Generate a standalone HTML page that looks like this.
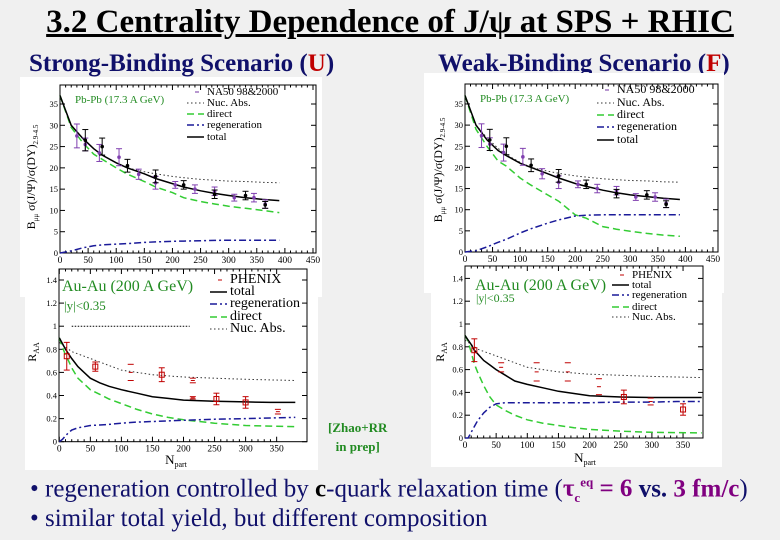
<!DOCTYPE html>
<html><head><meta charset="utf-8">
<style>
html,body{margin:0;padding:0}
body{width:780px;height:540px;background:#f0f0f0;position:relative;overflow:hidden;font-family:"Liberation Serif",serif}
.abs{position:absolute;white-space:nowrap}
#title{left:0;width:780px;text-align:center;top:4px;font-size:33px;font-weight:bold;text-decoration:underline;color:#000}
.sub{top:50px;font-size:25px;font-weight:bold;color:#10106a}
.red{color:#c00000}
.bul{left:30px;font-size:25px;color:#10106a}
.pur{color:#800080;font-weight:bold}
#zhao{left:328px;top:418px;font-size:13px;font-weight:bold;color:#228b22;text-align:center;line-height:19px}
svg{position:absolute;left:0;top:0}
</style></head>
<body>
<div id="title" class="abs">3.2 Centrality Dependence of J/ψ at SPS + RHIC</div>
<div class="abs sub" style="left:29px">Strong-Binding Scenario (<span class="red">U</span>)</div>
<div class="abs sub" style="left:438px">Weak-Binding Scenario (<span class="red">F</span>)</div>
<svg id="chart" width="780" height="540"></svg>
<div id="zhao" class="abs">[Zhao+RR<br>in prep]</div>
<div class="abs bul" style="top:475px">• regeneration controlled by <b style="color:#000">c</b>-quark relaxation time (<span class="pur">τ<sub style="font-size:13px">c</sub><sup style="font-size:13px">eq</sup> = 6</span> <b>vs.</b> <span class="pur">3 fm/c</span>)</div>
<div class="abs bul" style="top:505px">• similar total yield, but different composition</div>
<script>
// ---- SPS data (shared) ----
const spsX = [0,20,40,60,75,100,120,150,170,200,220,250,275,300,330,360,390];
const uTotal = [37,30,27,24.5,23,21.2,20,18.6,17.5,16.3,15.5,14.6,14,13.5,13,12.6,12.3];
const uNuc = [37,30,27,24.5,23,21.2,20,19.1,18.6,18,17.7,17.3,17.1,16.9,16.8,16.6,16.5];
const uDirect = [37,29.5,26,23.2,22,20,18.5,16.8,15.5,14.2,13,12.1,11.5,11,10.5,10,9.5];
const uRegen = [0,0.5,1.2,1.7,1.9,2.1,2.2,2.5,2.6,2.75,2.8,2.9,2.95,3,3,3,3];
const fTotal = [37,30,26.5,24,22.8,21,20,18.5,17.5,16.2,15.5,14.6,14,13.5,13.1,12.7,12.4];
const fNuc = uNuc;
const fDirect = [37,29,25,21.5,20.3,17.5,15.8,13.5,12,8.8,8,6,5.4,4.9,4.4,4,3.7];
const fRegen = [0,0.3,1.2,2.3,3,4.5,5.5,6.8,7.6,8.5,8.7,8.8,8.8,8.8,8.8,8.8,8.8];
const na50X = [30,45,70,105,140,170,205,240,275,310,345,365];
const na50Y = [27.5,25.5,23.5,22.5,18.5,16.5,16,15,14.5,13,13,11.5];
const na50E = [2.8,1.5,2,2,1.2,1.5,0.8,1,1,0.8,1,1];
const blkX = [45,75,120,170,220,275,330,365];
const blkY = [26.5,25,20.5,18,16,13.8,13.5,11.3];
const blkE = [2.5,2,1.5,1.5,1,1,1,0.8];
// ---- RHIC data ----
const rhX = [0,5,10,15,20,30,40,50,65,80,100,125,150,175,200,250,300,340,380];
const uRTot = [0.9,0.85,0.8,0.76,0.72,0.65,0.6,0.55,0.51,0.48,0.45,0.42,0.39,0.375,0.36,0.35,0.345,0.34,0.34];
const uRNuc = [0.86,0.84,0.82,0.8,0.78,0.76,0.74,0.72,0.69,0.66,0.62,0.6,0.58,0.57,0.56,0.55,0.54,0.535,0.53];
const uRDir = [0.9,0.82,0.75,0.7,0.64,0.55,0.5,0.45,0.41,0.37,0.33,0.28,0.24,0.21,0.19,0.16,0.14,0.135,0.13];
const uRReg = [0,0.02,0.05,0.08,0.1,0.12,0.13,0.14,0.145,0.15,0.16,0.17,0.175,0.18,0.185,0.195,0.2,0.205,0.21];
const fRTot = [0.9,0.86,0.82,0.77,0.74,0.68,0.64,0.6,0.55,0.5,0.47,0.44,0.41,0.39,0.37,0.36,0.355,0.355,0.355];
const fRNuc = uRNuc;
const fRDir = [0.9,0.85,0.75,0.65,0.58,0.46,0.36,0.29,0.24,0.2,0.16,0.13,0.11,0.09,0.075,0.06,0.05,0.047,0.045];
const fRReg = [0,0,0.05,0.1,0.15,0.22,0.27,0.3,0.31,0.31,0.31,0.31,0.31,0.31,0.31,0.315,0.315,0.32,0.32];
const phxUX = [12,58,115,165,215,215,253,300,352];
const phxUY = [0.74,0.65,0.6,0.58,0.53,0.38,0.37,0.34,0.26];
const phxUE = [0.12,0.04,0.07,0.06,0.02,0.01,0.05,0.05,0.02];
const phxUT = ['s','b','y','b','y','y','b','b','y'];
const phxFX = [15,58,115,165,215,255,298,350];
const phxFY = [0.77,0.62,0.58,0.58,0.45,0.36,0.32,0.25];
const phxFE = [0.1,0.04,0.08,0.08,0.07,0.06,0.03,0.05];
const phxFT = ['s','y','y','y','y','b','y','b'];
const spsXTicks = [0,50,100,150,200,250,300,350,400,450];
const spsYTicks = [0,5,10,15,20,25,30,35];
const rhXTicks = [0,50,100,150,200,250,300,350];
const rhYTicks = [0,0.2,0.4,0.6,0.8,1,1.2,1.4];

const svg = document.getElementById('chart');
const NS='http://www.w3.org/2000/svg';
function mk(tag, attrs, parent){const e=document.createElementNS(NS,tag);for(const k in attrs)e.setAttribute(k,attrs[k]);(parent||svg).appendChild(e);return e;}
function txt(s,x,y,size,color,parent,anchor){const t=mk('text',{x:x,y:y,'font-size':size,fill:color,'font-family':'Liberation Serif, serif','text-anchor':anchor||'start'},parent);t.textContent=s;return t;}

const bgs=[[20,77,302,220,'panel-bg-sps-u'],[25,262,293,208,'panel-bg-rhic-u'],[424,73,300,220,'panel-bg-sps-f'],[431,263,291,204,'panel-bg-rhic-f']];
for(const b of bgs){const r=mk('rect',{x:b[0],y:b[1],width:b[2],height:b[3],fill:'#fff'});

}

const styles={
 total:{stroke:'#000','stroke-width':1.5},
 nuc:{stroke:'#333','stroke-width':1,'stroke-dasharray':'1.5,2.5'},
 direct:{stroke:'#33cc33','stroke-width':1.5,'stroke-dasharray':'7,4'},
 regen:{stroke:'#1a1a99','stroke-width':1.5,'stroke-dasharray':'7,3,2,3'}
};

function panel(cfg){
 const g=mk('g',{});
 
 
 const sx=v=>cfg.px0+v*cfg.kx, sy=v=>cfg.py0-v*cfg.ky;
 const fr=mk('rect',{x:cfg.fl,y:cfg.ft,width:cfg.fr-cfg.fl,height:cfg.py0-cfg.ft,fill:'none',stroke:'#000','stroke-width':1},g);
 
 
 const xa=mk('g',{},g);
 
 
 cfg.xt.forEach((v,i)=>{const x=sx(v);mk('line',{x1:x,x2:x,y1:cfg.py0,y2:cfg.py0-5,stroke:'#000'},xa);mk('line',{x1:x,x2:x,y1:cfg.ft,y2:cfg.ft+5,stroke:'#000'},xa);
  txt(String(v),x,cfg.py0+10,9.5,'#000',xa,'middle');
  if(i<cfg.xt.length-1){for(let m=1;m<5;m++){const xm=sx(v+(cfg.xt[1]-cfg.xt[0])*m/5);if(xm<cfg.fr){mk('line',{x1:xm,x2:xm,y1:cfg.py0,y2:cfg.py0-2.5,stroke:'#000'},xa);mk('line',{x1:xm,x2:xm,y1:cfg.ft,y2:cfg.ft+2.5,stroke:'#000'},xa);}}}});
 const ya=mk('g',{},g);
 
 
 cfg.yt.forEach(v=>{const y=sy(v);mk('line',{x1:cfg.fl,x2:cfg.fl+5,y1:y,y2:y,stroke:'#000'},ya);mk('line',{x1:cfg.fr,x2:cfg.fr-5,y1:y,y2:y,stroke:'#000'},ya);
  txt(String(v),cfg.fl-2,y+3,8.5,'#000',ya,'end');});
 cfg.curves.forEach(c=>{const pts=c.y.map((v,i)=>sx(cfg.cx[i]).toFixed(1)+','+sy(v).toFixed(1)).join(' ');
  const a=Object.assign({points:pts,fill:'none'},styles[c.s]);const p=mk('polyline',a,g);
  
  });
 if(cfg.ref){const l=mk('line',{x1:sx(cfg.ref[0]),x2:sx(cfg.ref[1]),y1:sy(1),y2:sy(1),stroke:'#000','stroke-dasharray':'1.5,1.5'},g);
  
  }
 cfg.pts.forEach(ps=>{ps.x.forEach((xv,i)=>{const x=sx(xv),y=sy(ps.y[i]),y1=sy(ps.y[i]+ps.e[i]),y2=sy(ps.y[i]-ps.e[i]);
  const pg=mk('g',{},g);
  
  
  const t=ps.t?ps.t[i]:'b';
  if(t==='y'){mk('line',{x1:x-3,x2:x+3,y1:y1,y2:y1,stroke:ps.c},pg);mk('line',{x1:x-3,x2:x+3,y1:y2,y2:y2,stroke:ps.c},pg);mk('line',{x1:x-2,x2:x+2,y1:y,y2:y,stroke:ps.c},pg);}
  else{mk('line',{x1:x,x2:x,y1:y1,y2:y2,stroke:ps.c},pg);mk('line',{x1:x-3,x2:x+3,y1:y1,y2:y1,stroke:ps.c},pg);mk('line',{x1:x-3,x2:x+3,y1:y2,y2:y2,stroke:ps.c},pg);
   if(ps.m==='box')mk('rect',{x:x-2.5,y:y-2.5,width:5,height:5,fill:'none',stroke:ps.c},pg);else mk('circle',{cx:x,cy:y,r:1.8,fill:ps.c},pg);}
 });});
 const lg=mk('g',{},g);
 
 
 cfg.leg.forEach((e,i)=>{const y=cfg.lys[i];
  if(e[1]==='pt'){mk('line',{x1:cfg.lx-12,x2:cfg.lx-8,y1:y-3,y2:y-3,stroke:e[2]},lg);}
  else{const a=Object.assign({x1:cfg.lx-20,x2:cfg.lx-3,y1:y-3,y2:y-3},styles[e[1]]);mk('line',a,lg);}
  txt(e[0],cfg.lx,y,cfg.lfs,'#000',lg);});
 cfg.labels.forEach(l=>{txt(l[0],l[1],l[2],l[3],l[4],g);});
 return {g,sx,sy};
}

const spsLeg=[['NA50 98&2000','pt','#7030a0'],['Nuc. Abs.','nuc'],['direct','direct'],['regeneration','regen'],['total','total']];
const spsPts=[{name:'na50-point',x:na50X,y:na50Y,e:na50E,c:'#8040b0',m:'dot'},{name:'na50-2000-point',x:blkX,y:blkY,e:blkE,c:'#000',m:'dot'}];

panel({name:'sps-strong-binding-panel',px0:60,kx:0.5622,py0:253,ky:4.257,fl:60,fr:316,ft:85,xt:spsXTicks,yt:spsYTicks,cx:spsX,
 curves:[{y:uNuc,s:'nuc'},{y:uDirect,s:'direct'},{y:uRegen,s:'regen'},{y:uTotal,s:'total'}],pts:spsPts,
 leg:spsLeg,lx:207,lys:[95,106,117,128,140],lfs:11,labels:[['Pb-Pb (17.3 A GeV)',75,103,11,'#228b22']]});
panel({name:'sps-weak-binding-panel',px0:465,kx:0.551,py0:252,ky:4.23,fl:465,fr:718,ft:84,xt:spsXTicks,yt:spsYTicks,cx:spsX,
 curves:[{y:fNuc,s:'nuc'},{y:fDirect,s:'direct'},{y:fRegen,s:'regen'},{y:fTotal,s:'total'}],pts:spsPts,
 leg:spsLeg,lx:617,lys:[93,106,118,130,143],lfs:12,labels:[['Pb-Pb (17.3 A GeV)',480,102,11,'#228b22']]});
const rhLeg=[['PHENIX','pt','#c00000'],['total','total'],['regeneration','regen'],['direct','direct'],['Nuc. Abs.','nuc']];
panel({name:'rhic-strong-binding-panel',px0:59.3,kx:0.621,py0:441.7,ky:115.5,fl:59,fr:307,ft:269,xt:rhXTicks,yt:rhYTicks,cx:rhX,ref:[20,210],
 curves:[{y:uRNuc,s:'nuc'},{y:uRDir,s:'direct'},{y:uRReg,s:'regen'},{y:uRTot,s:'total'}],
 pts:[{name:'phenix-point',x:phxUX,y:phxUY,e:phxUE,t:phxUT,c:'#c00000',m:'box'}],
 leg:rhLeg,lx:230,lys:[283,295,307,320,332],lfs:14,labels:[['Au-Au (200 A GeV)',62,291,16,'#228b22'],['|y|<0.35',64,310,13,'#228b22']]});
panel({name:'rhic-weak-binding-panel',px0:465,kx:0.623,py0:438,ky:114,fl:465,fr:703,ft:266,xt:rhXTicks,yt:rhYTicks,cx:rhX,
 curves:[{y:fRNuc,s:'nuc'},{y:fRDir,s:'direct'},{y:fRReg,s:'regen'},{y:fRTot,s:'total'}],
 pts:[{name:'phenix-point',x:phxFX,y:phxFY,e:phxFE,t:phxFT,c:'#c00000',m:'box'}],
 leg:rhLeg,lx:632,lys:[278,288,298,310,320],lfs:11,labels:[['Au-Au (200 A GeV)',475,290,16,'#228b22'],['|y|<0.35',476,302,12,'#228b22']]});

function ytitle(s,x,y,name){const t=mk('text',{x:0,y:0,'font-size':12,'font-family':'Liberation Serif, serif','text-anchor':'middle',transform:`translate(${x},${y}) rotate(-90)`});
 
 
 t.innerHTML=s;}
ytitle('B<tspan font-size="7" dy="3">μμ</tspan><tspan dy="-3"> σ(J/Ψ)/σ(DY)</tspan><tspan font-size="7" dy="3">2.9-4.5</tspan>',35,177,'y-axis-title-sps-u');
ytitle('B<tspan font-size="7" dy="3">μμ</tspan><tspan dy="-3"> σ(J/Ψ)/σ(DY)</tspan><tspan font-size="7" dy="3">2.9-4.5</tspan>',442,170,'y-axis-title-sps-f');
ytitle('R<tspan font-size="8" dy="3">AA</tspan>',36,352,'y-axis-title-rhic-u');
ytitle('R<tspan font-size="8" dy="3">AA</tspan>',444,352,'y-axis-title-rhic-f');
function xtitle(x,y,name){const t=mk('text',{x:x,y:y,'font-size':13,'font-family':'Liberation Serif, serif','text-anchor':'middle'});
 
 
 t.innerHTML='N<tspan font-size="8" dy="3">part</tspan>';}
xtitle(176,464,'x-axis-title-rhic-u');
xtitle(585,462,'x-axis-title-rhic-f');
</script>
</body></html>
